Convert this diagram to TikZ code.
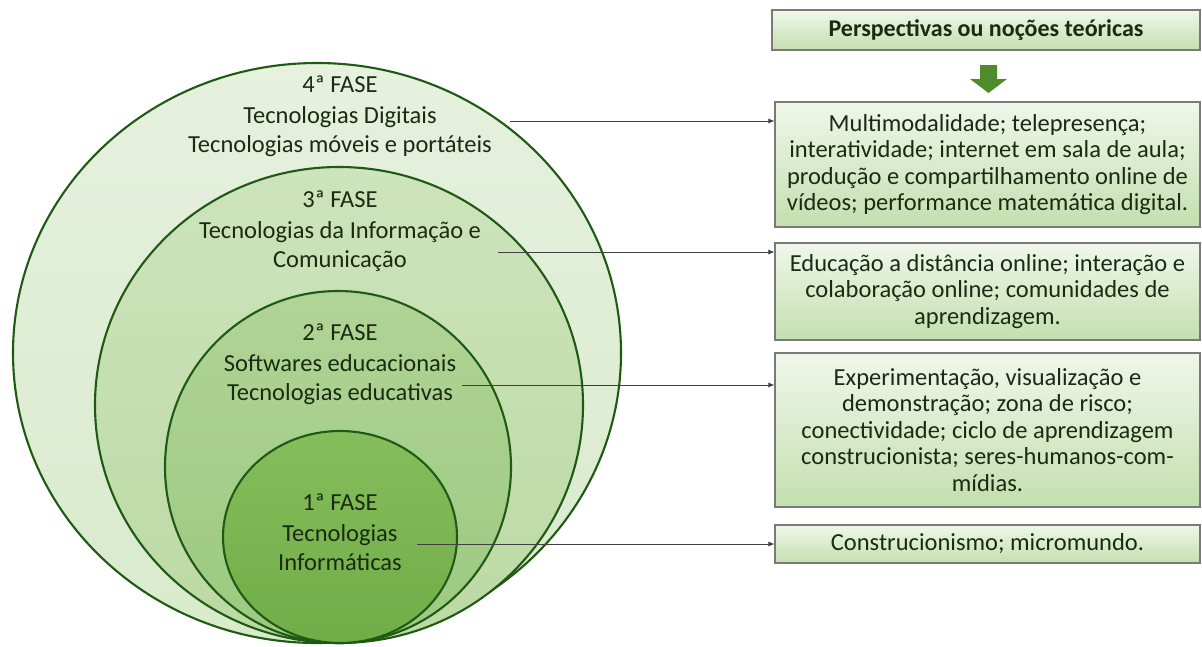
\documentclass[tikz,border=0pt]{standalone}
\usepackage{fontspec}
\setmainfont{Carlito}
\usetikzlibrary{shapes.geometric,arrows.meta}
\definecolor{ringline}{HTML}{1F5A14}
\definecolor{txt}{HTML}{1A2B12}
\definecolor{boxline}{HTML}{7A7A7A}
\definecolor{boxtop}{HTML}{F0F7EA}
\definecolor{boxbot}{HTML}{C3DFAF}
\definecolor{ringA}{HTML}{E6F1DE}
\definecolor{ringAb}{HTML}{D9EACC}
\definecolor{ringB}{HTML}{CDE4BC}
\definecolor{ringBb}{HTML}{BBD9A4}
\definecolor{ringC}{HTML}{B0D497}
\definecolor{ringCb}{HTML}{9CC97F}
\definecolor{ringD}{HTML}{86BD5C}
\definecolor{ringDb}{HTML}{70AD47}
\definecolor{arrowgreen}{HTML}{4E8B2B}
\tikzset{
  phase/.style={ellipse, draw=ringline, line width=2.1pt, inner sep=0pt},
  phasetext/.style={text=txt, font=\fontsize{24.5}{28.5}\selectfont, align=center, inner sep=0pt},
  notebox/.style={draw=boxline, line width=1.1pt, top color=boxtop, bottom color=boxbot,
    text=txt, font=\fontsize{24.5}{26.5}\selectfont, align=center, inner sep=0pt},
  link/.style={draw=black!75, line width=0.8pt, -{Latex[length=6pt,width=5pt]}}
}
\begin{document}
\begin{tikzpicture}[x=1pt,y=-1pt]
\useasboundingbox (0,0) rectangle (1202,646);

% nested phases, all touching at the bottom
\node[phase, top color=ringA, bottom color=ringAb, minimum width=608pt, minimum height=580pt] (p4) at (317,353) {};
\node[phase, top color=ringB, bottom color=ringBb, minimum width=488pt, minimum height=476pt] (p3) at (339,405) {};
\node[phase, top color=ringC, bottom color=ringCb, minimum width=346pt, minimum height=352pt] (p2) at (338,467) {};
\node[phase, top color=ringD, bottom color=ringDb, minimum width=234pt, minimum height=212pt] (p1) at (340,537) {};

% phase labels
\node[phasetext] (t4) at (340,116) {4ª FASE\\[3pt]Tecnologias Digitais\\Tecnologias móveis e portáteis};
\node[phasetext] (t3) at (340,231) {3ª FASE\\[3pt]Tecnologias da Informação e\\Comunicação};
\node[phasetext] (t2) at (340,364) {2ª FASE\\[3pt]Softwares educacionais\\Tecnologias educativas};
\node[phasetext] (t1) at (340,532) {1ª FASE\\[3pt]Tecnologias\\Informáticas};

% heading and its arrow
\node[notebox, font=\bfseries\fontsize{24}{26}\selectfont, minimum width=428pt, minimum height=40pt] (head) at (986,30) {Perspectivas ou noções teóricas};
\fill[arrowgreen] (980,65) -- (997,65) -- (997,79) -- (1007,79) -- (988.5,93) -- (970,79) -- (980,79) -- cycle;

% theoretical notions of each phase
\node[notebox, minimum width=425pt, minimum height=125pt] (n4) at (987.5,164.5) {Multimodalidade; telepresença;\\interatividade; internet em sala de aula;\\produção e compartilhamento online de\\vídeos; performance matemática digital.};
\node[notebox, minimum width=425pt, minimum height=97pt] (n3) at (987.5,291.5) {Educação a distância online; interação e\\colaboração online; comunidades de\\aprendizagem.};
\node[notebox, minimum width=425pt, minimum height=154pt] (n2) at (987.5,430) {Experimentação, visualização e\\demonstração; zona de risco;\\conectividade; ciclo de aprendizagem\\construcionista; seres-humanos-com-\\mídias.};
\node[notebox, minimum width=425pt, minimum height=38pt] (n1) at (987.5,544) {Construcionismo; micromundo.};

% connector start points inside the phases
\coordinate (s4) at (510,121);
\coordinate (s3) at (498,252);
\coordinate (s2) at (462,385);
\coordinate (s1) at (417,544);

\draw[link] (s4) -- (s4 -| n4.west);
\draw[link] (s3) -- (s3 -| n3.west);
\draw[link] (s2) -- (s2 -| n2.west);
\draw[link] (s1) -- (s1 -| n1.west);
\end{tikzpicture}
\end{document}
